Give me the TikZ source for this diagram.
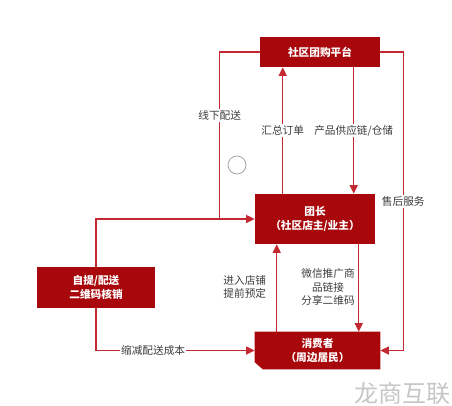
\documentclass[tikz,border=0pt]{standalone}
\usepackage{fontspec}
\setmainfont{Noto Sans CJK SC}
\usetikzlibrary{arrows.meta,calc,backgrounds}
\definecolor{boxred}{RGB}{168,8,12}
\definecolor{linered}{RGB}{196,40,48}
\definecolor{txt}{RGB}{60,60,60}
\begin{document}
\begin{tikzpicture}[x=0.75pt,y=-0.75pt,
  box/.style={fill=boxred,text=white,font=\fontsize{8}{10.5}\selectfont\bfseries,align=center,inner sep=0pt},
  arr/.style={draw=linered,line width=1.1pt,-{Triangle[length=6.5pt,width=6pt]}},
  ln/.style={draw=linered,line width=1.1pt},
  lbl/.style={fill=white,text=txt,font=\fontsize{8}{10}\selectfont,inner sep=1pt,align=center}]
\useasboundingbox (0,0) rectangle (452,405);
% boxes
\node[box,minimum width=90pt,minimum height=22.5pt] (top) at (320,52) {社区团购平台};
\node[box,minimum width=90pt,minimum height=37.5pt] (tz) at (315,219) {团长\\（社区店主/业主）};
\node[box,minimum width=88.5pt,minimum height=30.75pt] (zt) at (96,287.5) {自提/配送\\二维码核销};
\node[box,fill=none,minimum width=93.75pt,minimum height=27.75pt] (xf) at (317.5,350.5) {消费者\\（周边居民）};
\begin{scope}[on background layer]
\fill[boxred] (xf.north west) -- (xf.north east) -- (xf.south east) -- ($(xf.south west)+(8,0)$) -- ($(xf.south west)+(0,-7)$) -- cycle;
\end{scope}
% coordinates
\coordinate (j1) at ($(zt.north)!1!(zt.north)$);
\coordinate (p1) at ($(tz.north west)+(28,0)$);
\coordinate (p2) at ($(top.south west)+(94,0)$);
\coordinate (p3) at ($(xf.north west)+(22,0)$);
\coordinate (p4) at ($(tz.south west)+(104,0)$);
\coordinate (lft) at ($(top.west)+(-40,0)$);
\coordinate (rgt) at ($(top.east)+(23,0)$);
% connectors
\draw[ln] (top.west) -- (lft) -- (lft |- tz.west) node[lbl,pos=0.38] {线下配送};
\draw[arr] (zt.north) |- (tz.west);
\draw[arr] (p1) -- (p1 |- top.south) node[lbl,pos=0.5] {汇总订单};
\draw[arr] (p2) -- (p2 |- tz.north) node[lbl,pos=0.5] {产品供应链/仓储};
\draw[arr] (top.east) -- (rgt) -- (rgt |- xf.east) node[lbl,pos=0.5] {售后服务} -- (xf.east);
\draw[arr] (zt.south) |- (xf.west) node[lbl,pos=0.68] {缩减配送成本};
\draw[arr] (p3) -- (p3 |- tz.south);
\node[lbl,fill=none,anchor=east] (l1) at ($(p3)+(-9,-45)$) {进入店铺\\提前预定};
\draw[arr] (p4) -- (p4 |- xf.north);
\node[lbl,fill=none] (l2) at (328,287) {微信推广商\\品链接\\分享二维码};
% circle
\node[draw=gray!70,line width=0.6pt,circle,minimum size=13.5pt,inner sep=0pt] (c) at (237,165) {};
% watermark
\node[text=gray!45,font=\fontsize{18}{20}\selectfont] (wm) at (402,393) {龙商互联};
\end{tikzpicture}
\end{document}
